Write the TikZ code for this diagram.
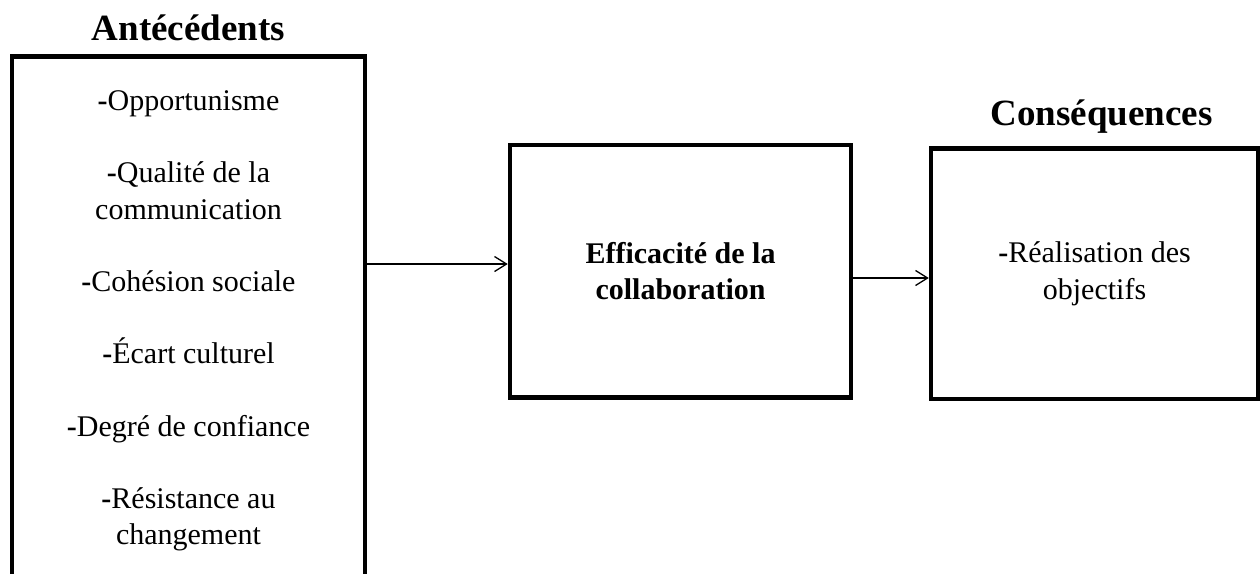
\documentclass[tikz,border=0pt]{standalone}
\usepackage{fontspec}
\setmainfont{Liberation Serif}
\usetikzlibrary{arrows.meta,positioning}

\begin{document}
\begin{tikzpicture}[x=1pt, y=1pt,
    boite/.style={draw, line width=4.5pt, align=center, inner sep=0pt, font=\fontsize{30}{36.2}\selectfont},
    titre/.style={font=\bfseries\fontsize{37}{44}\selectfont, inner sep=0pt, text depth=0pt},
    fleche/.style={-{Straight Barb[length=12pt,width=15pt]}, line width=1.3pt}]

    \useasboundingbox (0,0) rectangle (1260,-573);

    % les trois blocs
    \node[boite, minimum width=353pt, minimum height=529pt] (antecedents) at (188.5,-321) {\textbf{-}Opportunisme\\[36.2pt]
        \textbf{-}Qualité de la\\communication\\[36.2pt]
        \textbf{-}Cohésion sociale\\[36.2pt]
        \textbf{-}Écart culturel\\[36.2pt]
        \textbf{-}Degré de confiance\\[36.2pt]
        \textbf{-}Résistance au\\changement};
    \node[boite, minimum width=341pt, minimum height=252.5pt, font=\bfseries\fontsize{30}{36.2}\selectfont] (efficacite) at (680.5,-271) {Efficacité de la\\collaboration};
    \node[boite, minimum width=327pt, minimum height=250.5pt] (consequences) at (1094.5,-273.75) {\textbf{-}Réalisation des\\objectifs};

    % titres
    \node[titre, above=14pt of antecedents] (tAntecedents) {Antécédents};
    \node[titre, above=21pt of consequences, xshift=7pt] (tConsequences) {Conséquences};

    % fleches
    \coordinate (e1) at ([yshift=7pt]efficacite.west);
    \draw[fleche] (e1 -| antecedents.east) -- (e1);
    \coordinate (e2) at ([yshift=-7pt]efficacite.east);
    \draw[fleche] (e2) -- (e2 -| consequences.west);
\end{tikzpicture}
\end{document}
